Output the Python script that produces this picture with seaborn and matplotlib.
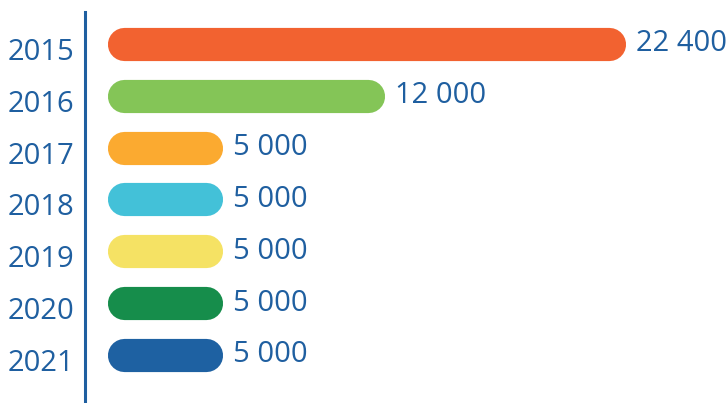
import matplotlib
matplotlib.use("Agg")
import matplotlib.pyplot as plt
import matplotlib.transforms as mtransforms
import pandas as pd
import seaborn as sns

years = ["2015", "2016", "2017", "2018", "2019", "2020", "2021"]
values = [22400, 12000, 5000, 5000, 5000, 5000, 5000]
value_labels = ["22 400", "12 000", "5 000", "5 000", "5 000", "5 000", "5 000"]
colors = ["#f26230", "#84c557", "#fbaa30", "#43c1d8", "#f5e264", "#168d4b", "#1e61a2"]

TEXT_BLUE = "#1f5fa0"

sns.set_theme(style="white")
plt.rcParams["font.family"] = ["Open Sans", "DejaVu Sans"]

df = pd.DataFrame({"year": years, "value": values})

fig = plt.figure(figsize=(7.26, 4.03), dpi=100)
ax = fig.add_axes([85 / 726, 0.0, 641 / 726, 1 - 12 / 403])

bar_h = 0.64
sns.barplot(data=df, x="value", y="year", hue="year", palette=colors,
            order=years, hue_order=years, orient="h", width=bar_h,
            saturation=1, legend=False, ax=ax)

ax.set_xlim(-949, 26715)
ax.set_ylim(6.926, -0.617)

# Turn the square bars into pills: a thick line with round caps spanning each bar
fig.canvas.draw()
bbox = ax.get_window_extent()
x_per_px = (ax.get_xlim()[1] - ax.get_xlim()[0]) / bbox.width
y_per_px = (ax.get_ylim()[0] - ax.get_ylim()[1]) / bbox.height
px_to_pt = 72 / fig.dpi

for rect in list(ax.patches):
    x0, y0 = rect.get_x(), rect.get_y()
    w, h = rect.get_width(), rect.get_height()
    h_px = h / y_per_px
    r = (h_px / 2) * x_per_px
    yc = y0 + h / 2
    ax.plot([x0 + r, x0 + w - r], [yc, yc], color=rect.get_facecolor(),
            linewidth=h_px * px_to_pt, solid_capstyle="round",
            zorder=rect.get_zorder())
    rect.remove()

for i, (v, lab) in enumerate(zip(values, value_labels)):
    ax.annotate(lab, xy=(v, i), xytext=(7, 0), textcoords="offset points",
                ha="left", va="center", fontsize=21, color=TEXT_BLUE)

for side in ["top", "right", "bottom"]:
    ax.spines[side].set_visible(False)
ax.spines["left"].set_color(TEXT_BLUE)
ax.spines["left"].set_linewidth(2.2)

ax.set_xlabel("")
ax.set_ylabel("")
ax.set_xticks([])
ax.tick_params(axis="y", length=0, pad=8, labelsize=21, labelcolor=TEXT_BLUE)
ax.grid(False)

# Year labels sit a little below the bar centres
shift = mtransforms.ScaledTranslation(0, -3.5 / 72, fig.dpi_scale_trans)
for lbl in ax.get_yticklabels():
    lbl.set_transform(lbl.get_transform() + shift)

fig.savefig("out.png", dpi=100)
